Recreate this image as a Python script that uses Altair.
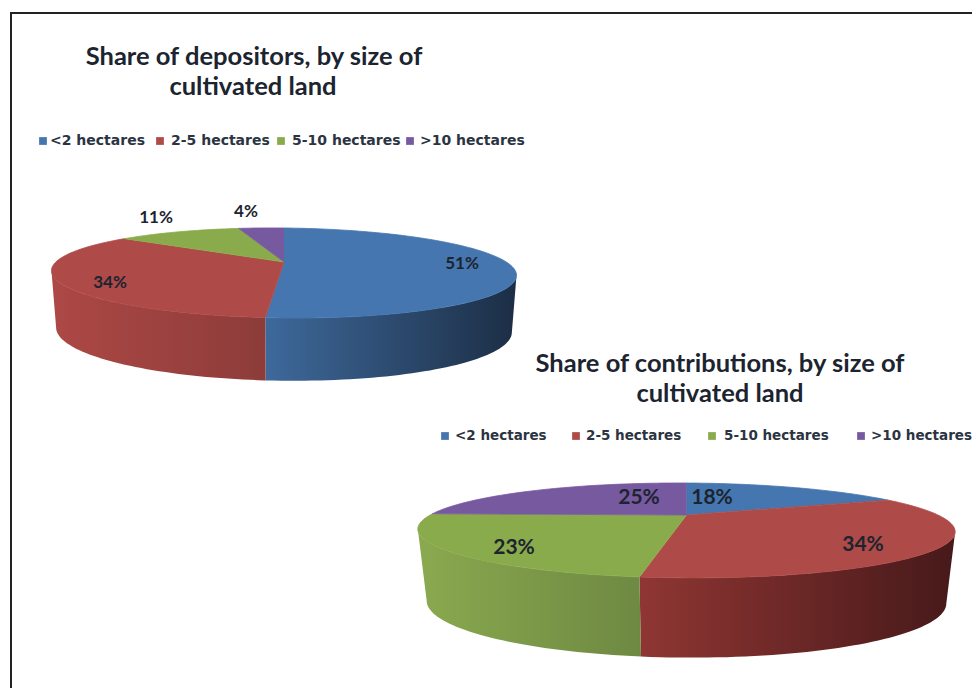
import math
import altair as alt
import pandas as pd

categories = ["<2 hectares", "2-5 hectares", "5-10 hectares", ">10 hectares"]
depositors = [51, 34, 11, 4]
contributions = [18, 34, 23, 25]
top_colors = ["#4676AF", "#AE4A47", "#8AAB4C", "#7759A0"]
FONT = "Lato"
INK = "#1c2430"


def point(a, pie, bottom=False):
    t = math.radians(a)
    u, v = math.sin(t), -math.cos(t)
    d = 1 - pie["k"] * v
    sx = pie["sx"] if bottom else 1
    sy = pie["sy"] if bottom else 1
    dy = pie["dy"] if bottom else 0
    x = pie["rx"] * sx * u / d
    y = pie["ry"] * sy * v / d + dy
    return pie["cx"] + x, pie["cy"] + y + pie["tilt"] * x


def arc_angles(a0, a1):
    n = max(2, int(abs(a1 - a0) / 1.5))
    return [a0 + (a1 - a0) * i / n for i in range(n + 1)]


def shape(points, fill, stroke=None):
    df = pd.DataFrame({"x": [p[0] for p in points], "y": [p[1] for p in points], "i": range(len(points))})
    kw = {"fill": fill, "strokeWidth": 0.8 if stroke else 0}
    if stroke:
        kw["stroke"] = stroke
    return alt.Chart(df).mark_line(interpolate="linear", **kw).encode(
        x=alt.X("x:Q", scale=XS, axis=None),
        y=alt.Y("y:Q", scale=YS, axis=None),
        order="i:Q",
    )


def grad(c0, c1):
    return alt.Gradient(
        gradient="linear", x1=0, x2=1, y1=0, y2=0,
        stops=[alt.GradientStop(color=c0, offset=0), alt.GradientStop(color=c1, offset=1)],
    )


XS = alt.Scale(domain=[8, 972], range=[0, 964], nice=False, zero=False)
YS = alt.Scale(domain=[688, 8], range=[680, 0], nice=False, zero=False)


def pie_layers(values, pie, walls):
    layers = []
    k = math.degrees(math.asin(pie["k"]))
    right, left = 90 + k, 270 - k
    edges = [0]
    for v in values:
        edges.append(edges[-1] + v * 3.6)
    for idx, c0, c1 in walls:
        a0, a1 = max(edges[idx], right), min(edges[idx + 1], left)
        aa = arc_angles(a0, a1)
        pts = [point(a, pie) for a in aa] + [point(a, pie, True) for a in reversed(aa)]
        layers.append(shape(pts, grad(c0, c1)))
    for idx in range(len(values)):
        aa = arc_angles(edges[idx], edges[idx + 1])
        pts = [(pie["cx"], pie["cy"])] + [point(a, pie) for a in aa]
        layers.append(shape(pts, top_colors[idx], top_colors[idx]))
    return layers


def texts(labels, xs, ys, size, weight="bold", align="center", color=INK, font=FONT):
    df = pd.DataFrame({"x": xs, "y": ys, "t": labels})
    return alt.Chart(df).mark_text(font=font, fontSize=size, fontWeight=weight, align=align,
                                   baseline="middle", color=color).encode(
        x=alt.X("x:Q", scale=XS, axis=None), y=alt.Y("y:Q", scale=YS, axis=None), text="t:N")


def legend(xs_sq, xs_tx, y, size):
    df = pd.DataFrame({"x": xs_sq, "y": [y] * 4, "c": categories})
    sq = alt.Chart(df).mark_square(size=60, opacity=1).encode(
        x=alt.X("x:Q", scale=XS, axis=None), y=alt.Y("y:Q", scale=YS, axis=None),
        color=alt.Color("c:N", scale=alt.Scale(domain=categories, range=top_colors), legend=None))
    return [sq, texts(categories, xs_tx, [y] * 4, size, "bold", "left", "#2b3442", "DejaVu Sans")]


pie1 = dict(cx=284, cy=262, rx=225.5, ry=42.3, k=0.244, sx=0.98, sy=1.13, dy=55.5, tilt=0.01)
pie2 = dict(cx=686.5, cy=515, rx=254, ry=42.4, k=0.326, sx=0.967, sy=1.17, dy=69, tilt=0.005)

layers = []
frame = pd.DataFrame({"x": [10], "x2": [972], "y": [13]})
layers.append(alt.Chart(frame).mark_rule(color="#222222", strokeWidth=2).encode(
    x=alt.X("x:Q", scale=XS, axis=None), x2="x2:Q", y=alt.Y("y:Q", scale=YS, axis=None)))
frame2 = pd.DataFrame({"x": [11], "y": [13], "y2": [688]})
layers.append(alt.Chart(frame2).mark_rule(color="#222222", strokeWidth=2).encode(
    x=alt.X("x:Q", scale=XS, axis=None), y=alt.Y("y:Q", scale=YS, axis=None), y2="y2:Q"))

layers += pie_layers(depositors, pie1, [(0, "#3E699B", "#1C2E45"), (1, "#AD4845", "#8D3C3A")])
layers += pie_layers(contributions, pie2, [(1, "#8F3633", "#47191A"), (2, "#8AA94F", "#6E8942")])

layers.append(texts(["Share of depositors, by size of", "cultivated land"], [254, 253], [57, 87], 25.5))
layers.append(texts(["Share of contributions, by size of", "cultivated land"], [720, 720], [364, 394], 25.5))
layers += legend([43, 160, 281, 410], [50, 171, 292, 420], 141, 14)
layers += legend([445, 576, 712, 861], [455, 586, 724, 871], 436, 13.5)
layers.append(texts([f"{v}%" for v in depositors], [462, 110, 156, 246], [264, 283, 218, 212], 17))
layers.append(texts([f"{v}%" for v in contributions], [712, 863, 514, 639], [498, 545, 548, 498], 21))

chart = alt.layer(*layers).properties(
    width=964, height=680, padding=0, background="#ffffff",
    autosize=alt.AutoSizeParams(type="none"),
).configure_view(stroke=None)
chart.save("out.html", embed_options={"renderer": "svg", "actions": False})
